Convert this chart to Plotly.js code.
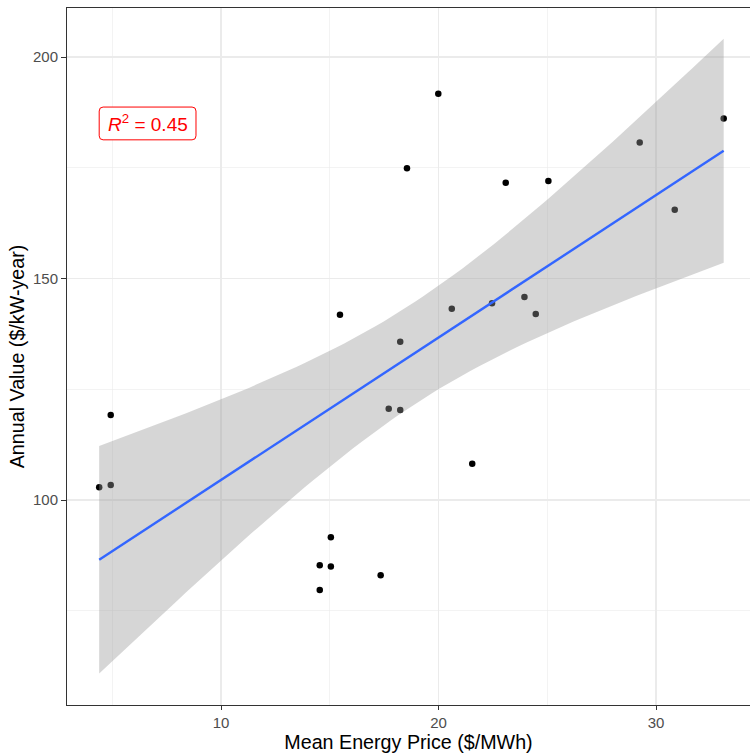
<!DOCTYPE html>
<html>
<head>
<meta charset="utf-8">
<script src="https://cdn.plot.ly/plotly-3.0.1.min.js"></script>
<style>html,body{margin:0;padding:0;background:#fff}#chart{width:750px;height:754px}</style>
</head>
<body>
<div id="chart"></div>
<script>
// Data
const energyPrice = [4.40, 4.93, 4.93, 14.54, 14.54, 15.05, 15.05, 17.34, 15.47, 18.24, 17.71, 18.24,
                     20.61, 22.46, 23.95, 24.47, 21.55, 19.99, 18.55, 23.09, 25.05, 29.25, 33.11, 30.86];
const annualValue = [102.9, 119.2, 103.4, 85.3, 79.7, 85.0, 91.6, 83.0, 141.8, 135.7, 120.6, 120.3,
                     143.2, 144.4, 145.8, 142.0, 108.2, 191.7, 174.9, 171.6, 172.0, 180.7, 186.1, 165.5];
const xTicks = [10, 20, 30];
const yTicks = [100, 150, 200];
const xMinorGrid = [5, 15, 25];
const yMinorGrid = [75, 125, 175];
const xTitle = 'Mean Energy Price ($/MWh)';
const yTitle = 'Annual Value ($/kW-year)';
const r2Label = '<i>R</i><sup>2</sup> = 0.45';

// Linear model fit with 95% confidence band (as geom_smooth(method = "lm"))
const n = energyPrice.length;
const mx = energyPrice.reduce((a, b) => a + b, 0) / n;
const my = annualValue.reduce((a, b) => a + b, 0) / n;
let sxx = 0, sxy = 0;
for (let i = 0; i < n; i++) {
  sxx += (energyPrice[i] - mx) ** 2;
  sxy += (energyPrice[i] - mx) * (annualValue[i] - my);
}
const slope = sxy / sxx;
const intercept = my - slope * mx;
let sse = 0;
for (let i = 0; i < n; i++) {
  sse += (annualValue[i] - (intercept + slope * energyPrice[i])) ** 2;
}
const s = Math.sqrt(sse / (n - 2));
const tcrit = 2.0739; // t(0.975, df = 22)
const xmin = Math.min(...energyPrice), xmax = Math.max(...energyPrice);
const fx = [], fy = [], lo = [], hi = [];
for (let k = 0; k < 80; k++) {
  const x = xmin + (xmax - xmin) * k / 79;
  const yhat = intercept + slope * x;
  const se = s * Math.sqrt(1 / n + (x - mx) ** 2 / sxx);
  fx.push(x); fy.push(yhat); lo.push(yhat - tcrit * se); hi.push(yhat + tcrit * se);
}

const traces = [
  {
    x: energyPrice, y: annualValue, type: 'scatter', mode: 'markers',
    marker: { color: '#000000', size: 6.5 }, hoverinfo: 'skip', showlegend: false
  },
  {
    x: fx.concat(fx.slice().reverse()), y: hi.concat(lo.slice().reverse()),
    type: 'scatter', mode: 'lines', fill: 'toself',
    fillcolor: 'rgba(153,153,153,0.4)', line: { width: 0 }, hoverinfo: 'skip', showlegend: false
  },
  {
    x: fx, y: fy, type: 'scatter', mode: 'lines',
    line: { color: '#3366FF', width: 2.4 }, hoverinfo: 'skip', showlegend: false
  }
];

const font = 'Liberation Sans, Arial, sans-serif';
const layout = {
  width: 750, height: 754,
  margin: { l: 67, r: 0, t: 8, b: 49 },
  paper_bgcolor: '#ffffff', plot_bgcolor: '#ffffff',
  font: { family: font },
  showlegend: false,
  xaxis: {
    range: [2.92, 34.32],
    tickmode: 'array', tickvals: xTicks, ticktext: xTicks.map(String),
    ticks: 'outside', ticklen: 4, tickwidth: 1, tickcolor: '#333333',
    tickfont: { family: font, size: 15, color: '#4D4D4D' },
    showgrid: true, gridcolor: '#EBEBEB', gridwidth: 1.1,
    minor: { tickmode: 'array', tickvals: xMinorGrid, showgrid: true, gridcolor: '#EBEBEB', gridwidth: 0.6, ticks: '' },
    zeroline: false,
    showline: true, linecolor: '#333333', linewidth: 1, mirror: true,
    title: { text: xTitle, font: { family: font, size: 19.7, color: '#000000' }, standoff: 5 },
    automargin: false
  },
  yaxis: {
    range: [53.73, 211.06],
    tickmode: 'array', tickvals: yTicks, ticktext: yTicks.map(String),
    ticks: 'outside', ticklen: 5, tickwidth: 1, tickcolor: '#333333',
    tickfont: { family: font, size: 15, color: '#4D4D4D' },
    showgrid: true, gridcolor: '#EBEBEB', gridwidth: 1.1,
    minor: { tickmode: 'array', tickvals: yMinorGrid, showgrid: true, gridcolor: '#EBEBEB', gridwidth: 0.6, ticks: '' },
    zeroline: false,
    showline: true, linecolor: '#333333', linewidth: 1,
    title: { text: yTitle, font: { family: font, size: 19.7, color: '#000000' }, standoff: 3 },
    automargin: false
  },
  shapes: [
    {
      type: 'path', xref: 'x', yref: 'y', layer: 'above',
      path: 'M 4.58 188.7 L 8.67 188.7 Q 8.85 188.7 8.85 187.8 L 8.85 182.2 Q 8.85 181.3 8.67 181.3 L 4.58 181.3 Q 4.40 181.3 4.40 182.2 L 4.40 187.8 Q 4.40 188.7 4.58 188.7 Z',
      line: { color: '#FF0000', width: 1 }, fillcolor: 'rgba(255,255,255,1)'
    }
  ],
  annotations: [
    {
      x: 6.625, y: 185.0, xref: 'x', yref: 'y', showarrow: false,
      text: r2Label, font: { family: font, size: 19, color: '#FF0000' },
      xanchor: 'center', yanchor: 'middle'
    }
  ]
};

Plotly.newPlot('chart', traces, layout, { staticPlot: true, displayModeBar: false });
</script>
</body>
</html>
